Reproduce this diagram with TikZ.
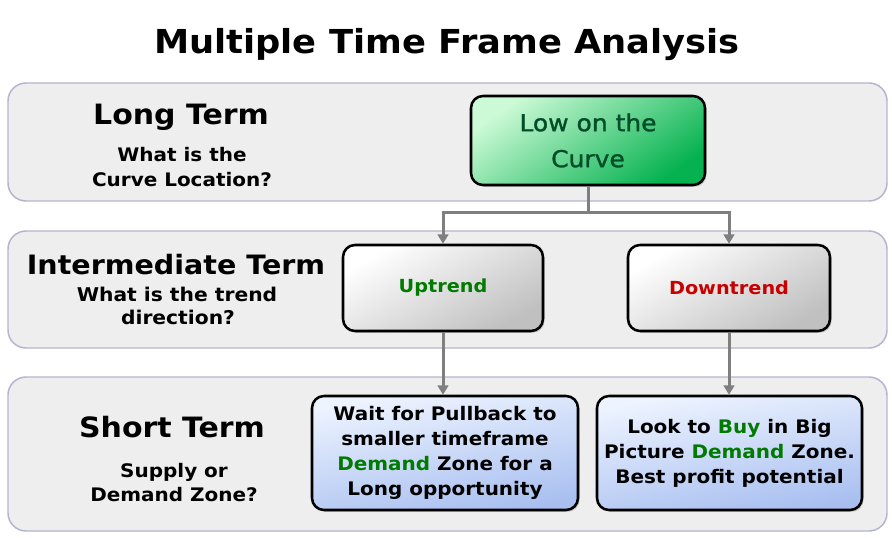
\documentclass[tikz,border=0pt]{standalone}
\usepackage{fontspec}
\setmainfont{DejaVu Sans}[FakeStretch=1.07]
\newfontfamily\greenfont{DejaVu Sans}[FakeStretch=1.07,FakeBold=1.2]
\usetikzlibrary{arrows.meta,shadows}
\definecolor{bandfill}{HTML}{EEEEEE}
\definecolor{bandline}{HTML}{B4B4D2}
\definecolor{connc}{HTML}{7F7F7F}
\definecolor{dgreen}{HTML}{007A00}
\definecolor{dred}{HTML}{C80000}
\definecolor{gtext}{HTML}{004D28}
\definecolor{glight}{HTML}{CCFAD6}
\definecolor{gdark}{HTML}{06B250}
\definecolor{blight}{HTML}{EEF4FF}
\definecolor{bdark}{HTML}{A8BFF0}
\definecolor{wdark}{HTML}{C0C0C0}
\tikzset{
  band/.style={draw=bandline, line width=1.1pt, fill=bandfill, rounded corners=13.5pt, minimum width=659.25pt, inner sep=0pt},
  boxbase/.style={draw=black, line width=1.9pt, rounded corners=9pt, inner sep=0pt, align=center,
    drop shadow={shadow xshift=1.2pt, shadow yshift=-1.4pt, opacity=0.35}},
  greenbox/.style={boxbase, top color=glight, bottom color=gdark, shading angle=35, text=gtext,
    font=\greenfont\fontsize{17.5}{27}\selectfont},
  whitebox/.style={boxbase, top color=white, bottom color=wdark, shading angle=30,
    font=\bfseries\fontsize{13.5}{16}\selectfont},
  bluebox/.style={boxbase, top color=blight, bottom color=bdark, shading angle=10,
    font=\bfseries\fontsize{14}{18.75}\selectfont},
  head/.style={anchor=base, font=\bfseries\fontsize{21}{25}\selectfont},
  sub/.style={anchor=base, font=\bfseries\fontsize{14}{18}\selectfont},
  conn/.style={draw=connc, line width=2.25pt},
  connarrow/.style={conn, -{Triangle[length=7pt,width=8pt]}},
}
\begin{document}
\begin{tikzpicture}[x=0.75pt,y=-0.75pt]
\useasboundingbox[fill=white] (0,0) rectangle (892,538);
% title
\node[anchor=base, font=\bfseries\fontsize{24.75}{30}\selectfont] (title) at (447,54) {Multiple Time Frame Analysis};
% bands
\node[band, minimum height=88.5pt] (b1) at (447.5,142) {};
\node[band, minimum height=87.75pt] (b2) at (447.5,289.5) {};
\node[band, minimum height=115.5pt] (b3) at (447.5,454) {};
% left labels
\node[head] (lt) at (181,125) {Long Term};
\node[sub] (lt1) at (182,162) {What is the};
\node[sub] (lt2) at (182,187) {Curve Location?};
\node[head, font=\bfseries\fontsize{20}{24}\selectfont] (it) at (176,275) {Intermediate Term};
\node[sub, font=\bfseries\fontsize{14.2}{18}\selectfont] (it1) at (177,301.5) {What is the trend};
\node[sub, font=\bfseries\fontsize{14.2}{18}\selectfont] (it2) at (178,325) {direction?};
\node[head] (st) at (172,437) {Short Term};
\node[sub] (st1) at (174,477) {Supply or};
\node[sub] (st2) at (174,501) {Demand Zone?};
% boxes
\node[greenbox, minimum width=175.5pt, minimum height=66.75pt] (low) at (588,140.5) {Low on the\\Curve};
\node[whitebox, minimum width=150pt, minimum height=64.5pt] (up) at (443,288) {\textcolor{dgreen}{Uptrend}};
\node[whitebox, minimum width=151.5pt, minimum height=64.5pt] (down) at (729,288) {\textcolor{dred}{Downtrend}};
\node[bluebox, minimum width=199.5pt, minimum height=85.5pt] (wait) at (445,453) {Wait for Pullback to\\smaller timeframe\\\textcolor{dgreen}{Demand} Zone for a\\Long opportunity};
\node[bluebox, minimum width=198.75pt, minimum height=85.5pt] (look) at (729.5,453) {Look to \textcolor{dgreen}{Buy} in Big\\Picture \textcolor{dgreen}{Demand} Zone.\\Best profit potential};
% connectors
\coordinate (j) at (588,213);
\draw[conn] (low.south) -- (j);
\draw[connarrow] (j) -| (up.north);
\draw[connarrow] (j) -| (down.north);
\draw[connarrow] (up.south) -- (up.south |- wait.north);
\draw[connarrow] (down.south) -- (down.south |- look.north);
\end{tikzpicture}
\end{document}
